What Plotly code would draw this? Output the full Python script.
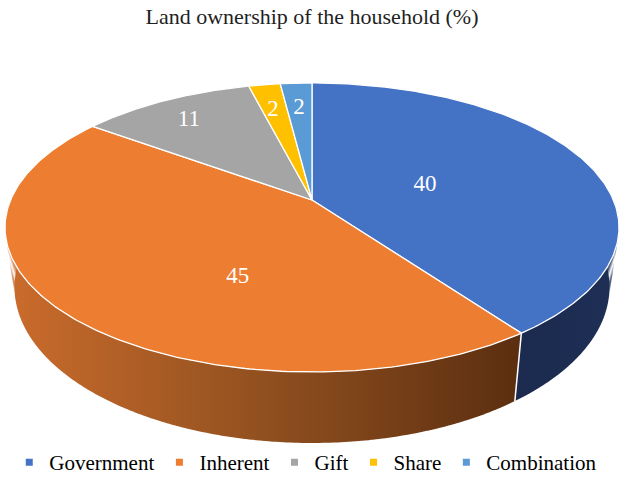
import numpy as np
import plotly.graph_objects as go

# ---- data ----
categories = ["Government", "Inherent", "Gift", "Share", "Combination"]
values = [40, 45, 11, 2, 2]
labels = ["40", "45", "11", "2", "2"]

# ---- styles ----
top_colors = ["#4472C4", "#ED7D31", "#A5A5A5", "#FFC000", "#5B9BD5"]
side_scales = {
    0: [[0, "#1B2A4E"], [1, "#1E2F56"]],
    1: [[0, "#CB6C2C"], [0.5, "#91501F"], [1, "#5B2E10"]],
    2: [[0, "#6E6E6E"], [1, "#4A4A4A"]],
    3: [[0, "#A67C00"], [1, "#7A5A00"]],
    4: [[0, "#3C6690"], [1, "#2C4C6C"]],
}
FONT = "Liberation Serif"

# ---- projection of a tilted 3-D disc (pixel-like axis units) ----
CX, CY = 312.0, 200.0   # apex of the pie
A, B = 301.4, 139.3     # horizontal / depth radii
K = 0.19                # perspective factor
D = 57.5                # thickness
S = 0.969               # perspective shrink of the bottom rim


def top_pt(theta, r=1.0):
    X, Z = r * np.sin(theta), r * np.cos(theta)
    den = 1 + K * Z
    return CX + A * X / den, CY - B * Z / den


def bot_pt(theta):
    X, Z = np.sin(theta), np.cos(theta)
    den = 1 + K * Z
    return CX + S * A * X / den, CY - B * Z / den + D / den


total = float(sum(values))
bounds = np.concatenate([[0], np.cumsum(values)]) / total * 2 * np.pi

fig = go.Figure()

# sides (only the front half is visible)
front_lo, front_hi = np.pi / 2, 3 * np.pi / 2
for i in range(len(values)):
    a0, a1 = max(bounds[i], front_lo), min(bounds[i + 1], front_hi)
    if a1 <= a0:
        continue
    ts = np.linspace(a0, a1, max(3, int((a1 - a0) / 0.01)))
    xs, ys = [], []
    for t0, t1 in zip(ts[:-1], ts[1:]):
        t1b = min(t1 + 0.004, a1)
        p = [top_pt(t0), top_pt(t1b), bot_pt(t1b), bot_pt(t0), top_pt(t0)]
        xs += [q[0] for q in p] + [None]
        ys += [q[1] for q in p] + [None]
    fig.add_trace(go.Scatter(
        x=xs, y=ys, mode="lines", fill="toself", line=dict(width=0),
        fillgradient=dict(type="horizontal", colorscale=side_scales[i]),
        hoverinfo="skip", showlegend=False))

# white edges on the side at slice boundaries
for b in bounds[1:-1]:
    if front_lo < b < front_hi:
        p0, p1 = top_pt(b), bot_pt(b)
        fig.add_trace(go.Scatter(x=[p0[0], p1[0]], y=[p0[1], p1[1]], mode="lines",
                                 line=dict(color="white", width=1.5),
                                 hoverinfo="skip", showlegend=False))

# top faces
for i in range(len(values)):
    ts = np.linspace(bounds[i], bounds[i + 1], 200)
    pts = [top_pt(t) for t in ts]
    xs = [CX] + [q[0] for q in pts] + [CX]
    ys = [CY] + [q[1] for q in pts] + [CY]
    fig.add_trace(go.Scatter(
        x=xs, y=ys, mode="lines", fill="toself", fillcolor=top_colors[i],
        line=dict(color="white", width=1.3), hoverinfo="skip", showlegend=False))

# data labels
lab_shift = np.deg2rad([-2, -20, 0, 0, 0])
lab_r = [0.41, 0.53, 0.82, 0.79, 0.79]
lab_dy = 4
lx, ly = [], []
for i in range(len(values)):
    t = (bounds[i] + bounds[i + 1]) / 2 + lab_shift[i]
    p = top_pt(t, lab_r[i])
    lx.append(p[0]); ly.append(p[1] + lab_dy)
fig.add_trace(go.Scatter(x=lx, y=ly, mode="text", text=labels,
                         textfont=dict(family=FONT, size=23, color="white"),
                         hoverinfo="skip", showlegend=False))

# legend entries
for i, c in enumerate(categories):
    fig.add_trace(go.Scatter(x=[None], y=[None], mode="markers", name=c,
                             marker=dict(symbol="square", size=7, color=top_colors[i])))

fig.update_layout(
    width=624, height=483,
    margin=dict(l=0, r=0, t=0, b=0, autoexpand=False),
    font=dict(family=FONT, color="#000000"),
    paper_bgcolor="white", plot_bgcolor="white",
    title=dict(text="Land ownership of the household (%)", x=0.5, xanchor="center",
               y=1 - 16 / 483, yanchor="middle",
               font=dict(family=FONT, size=22, color="#1F1F1F")),
    xaxis=dict(range=[0, 624], visible=False, fixedrange=True),
    yaxis=dict(range=[483, 0], visible=False, fixedrange=True),
    legend=dict(orientation="h", x=0.49, xanchor="center", y=0, yanchor="bottom",
                font=dict(family=FONT, size=21, color="#000000"),
                bgcolor="rgba(0,0,0,0)", itemclick=False, itemdoubleclick=False),
    showlegend=True,
)

fig.write_html("out.html", config={"displayModeBar": False},
               post_script="document.body.style.margin='0';document.body.style.overflow='hidden';")
